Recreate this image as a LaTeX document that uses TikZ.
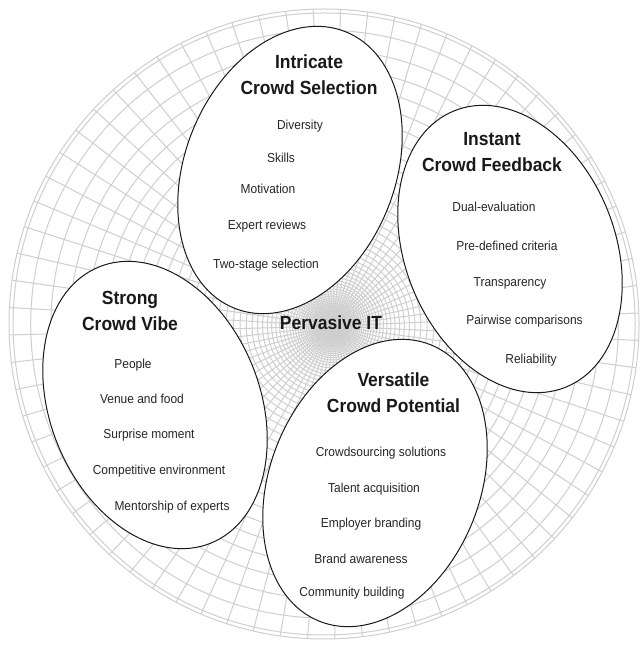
\documentclass[tikz,border=0pt]{standalone}
\usepackage{fontspec}
\setmainfont{Liberation Sans}[FakeStretch=0.92]
\begin{document}
\begin{tikzpicture}[x=1pt,y=1pt,
  gridline/.style={draw=black!19, line width=1pt},
  bubble/.style={draw=black!90, fill=white, line width=1pt},
  headtext/.style={font=\fontsize{19}{26}\selectfont\bfseries, text=black!90, align=center, inner sep=0pt},
  itemtext/.style={font=\fontsize{13}{15}\selectfont, text=black!85, inner sep=0pt}]
\useasboundingbox (0,0) rectangle (642,647);
\fill[white] (0,0) rectangle (642,647);
% polar grid
\foreach \k in {0,...,72}{
  \pgfmathsetmacro\r{315*0.933^\k}
  \pgfmathsetmacro\cx{333-9*\r/315}
  \pgfmathsetmacro\cy{321+2*\r/315}
  \draw[gridline] (\cx,\cy) circle[radius=\r pt];
}
\draw[gridline] (324.1,323) circle[radius=311pt];
\coordinate (gc) at (333,321);
\foreach \i in {0,...,71}{
  \draw[gridline] (gc) -- ({324+315*cos(5*\i+2)},{323+315*sin(5*\i+2)});
}
% bubbles
\draw[bubble, rotate around={-22:(290,477)}] (290,477) ellipse [x radius=105pt, y radius=149pt];
\draw[bubble, rotate around={22:(510,398)}] (510,398) ellipse [x radius=105pt, y radius=149pt];
\draw[bubble, rotate around={22:(155,242)}] (155,242) ellipse [x radius=105pt, y radius=149pt];
\draw[bubble, rotate around={-22:(375,164)}] (375,164) ellipse [x radius=105pt, y radius=149pt];
% center
\node[headtext] (pit) at (331,324) {Pervasive IT};
% E1
\node[headtext] (h1) at (309,572.5) {Intricate\\Crowd Selection};
\node[itemtext] (a1) at (300,521) {Diversity};
\node[itemtext] (a2) at (281,489) {Skills};
\node[itemtext] (a3) at (268,458.5) {Motivation};
\node[itemtext] (a4) at (267,421) {Expert reviews};
\node[itemtext] (a5) at (266,382) {Two-stage selection};
% E2
\node[headtext] (h2) at (492,494.5) {Instant\\Crowd Feedback};
\node[itemtext] (b1) at (494,440) {Dual-evaluation};
\node[itemtext] (b2) at (507,401.5) {Pre-defined criteria};
\node[itemtext] (b3) at (510,364) {Transparency};
\node[itemtext] (b4) at (524.5,326) {Pairwise comparisons};
\node[itemtext] (b5) at (531,287) {Reliability};
% E3
\node[headtext] (h3) at (130,336) {Strong\\Crowd Vibe};
\node[itemtext] (c1) at (133,282) {People};
\node[itemtext] (c2) at (142,248) {Venue and food};
\node[itemtext] (c3) at (149,212) {Surprise moment};
\node[itemtext] (c4) at (159,176) {Competitive environment};
\node[itemtext] (c5) at (172,140) {Mentorship of experts};
% E4
\node[headtext] (h4) at (393.5,254.5) {Versatile\\Crowd Potential};
\node[itemtext] (d1) at (381,194) {Crowdsourcing solutions};
\node[itemtext] (d2) at (374,158) {Talent acquisition};
\node[itemtext] (d3) at (371,123) {Employer branding};
\node[itemtext] (d4) at (361,88) {Brand awareness};
\node[itemtext] (d5) at (352,54) {Community building};
\end{tikzpicture}
\end{document}
